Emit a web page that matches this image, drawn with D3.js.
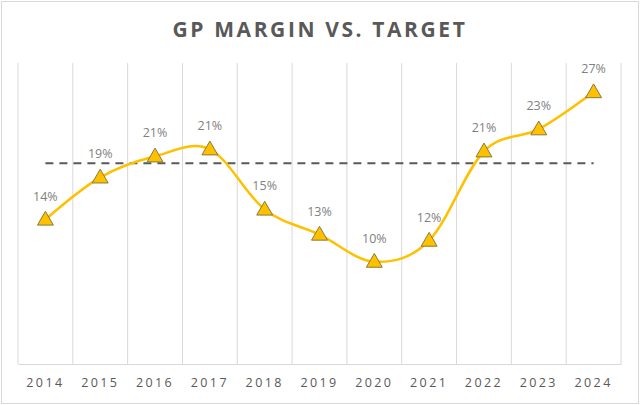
<!DOCTYPE html>
<html>
<head>
<meta charset="utf-8">
<script src="https://cdn.jsdelivr.net/npm/d3@7"></script>
<style>
  body { margin: 0; background: #fff; }
  svg { display: block; }
</style>
</head>
<body>
<script>
// chart data
var years = ['2014', '2015', '2016', '2017', '2018', '2019', '2020', '2021', '2022', '2023', '2024'];
var margin = [0.144, 0.186, 0.207, 0.214, 0.154, 0.129, 0.102, 0.123, 0.212, 0.234, 0.271];
var target = 0.20;
var yDomain = [0, 0.30];

var width = 640, height = 405;
var plot = {left: 18, right: 621, top: 63, bottom: 364};
var gold = '#FFC000';
var textColor = '#595959';

var svg = d3.select('body').append('svg')
    .attr('width', width)
    .attr('height', height);

// outer frame
svg.append('rect')
    .attr('x', 1.5).attr('y', 1.5)
    .attr('width', width - 3).attr('height', height - 3)
    .style('fill', '#fff')
    .style('stroke', '#d9d9d9');

svg.append('text')
    .attr('x', 320).attr('y', 37)
    .attr('text-anchor', 'middle')
    .style('font-family', '"Open Sans", sans-serif')
    .style('font-weight', 'bold')
    .style('font-size', '21px')
    .style('letter-spacing', '2.6px')
    .style('fill', textColor)
    .text('GP MARGIN VS. TARGET');

var x = d3.scaleBand()
    .domain(years)
    .range([plot.left, plot.right]);

var y = d3.scaleLinear()
    .domain(yDomain)
    .range([plot.bottom, plot.top]);

function cx(d) { return x(d) + x.bandwidth() / 2; }

// vertical gridlines between categories
var edges = years.map(function(d) { return x(d); }).concat([plot.right]);
svg.selectAll('.grid')
    .data(edges)
    .enter().append('line')
    .attr('class', 'grid')
    .attr('x1', function(d) { return d; })
    .attr('x2', function(d) { return d; })
    .attr('y1', plot.top)
    .attr('y2', plot.bottom)
    .style('stroke', '#d9d9d9')
    .style('stroke-width', 1);

// category axis
var xAxis = svg.append('g')
    .attr('transform', 'translate(0,' + plot.bottom + ')')
    .call(d3.axisBottom(x).tickSize(0).tickPadding(14));
xAxis.select('.domain').style('stroke', '#d9d9d9');
xAxis.selectAll('text')
    .style('font-family', '"Open Sans", sans-serif')
    .style('font-size', '12.5px')
    .style('letter-spacing', '2.4px')
    .style('fill', textColor);

// target line
svg.append('line')
    .attr('x1', cx(years[0]))
    .attr('x2', cx(years[years.length - 1]))
    .attr('y1', y(target))
    .attr('y2', y(target))
    .style('stroke', '#595959')
    .style('stroke-width', 2)
    .style('stroke-dasharray', '8,6');

var pts = years.map(function(d, i) { return {year: d, v: margin[i]}; });

var line = d3.line()
    .x(function(d) { return cx(d.year); })
    .y(function(d) { return y(d.v); })
    .curve(d3.curveCardinal.tension(0));

svg.append('path')
    .datum(pts)
    .attr('d', line)
    .style('fill', 'none')
    .style('stroke', gold)
    .style('stroke-width', 2.5);

var tri = d3.symbol().type(d3.symbolTriangle).size(110);

svg.selectAll('.marker')
    .data(pts)
    .enter().append('path')
    .attr('class', 'marker')
    .attr('d', tri)
    .attr('transform', function(d) {
        return 'translate(' + cx(d.year) + ',' + (y(d.v) + 1) + ')';
    })
    .style('fill', gold)
    .style('stroke', '#8a7a3a')
    .style('stroke-width', 1);

svg.selectAll('.label')
    .data(pts)
    .enter().append('text')
    .attr('class', 'label')
    .attr('x', function(d) { return cx(d.year); })
    .attr('y', function(d) { return y(d.v) - 19; })
    .attr('text-anchor', 'middle')
    .style('font-family', '"Open Sans", sans-serif')
    .style('font-size', '12.5px')
    .style('fill', '#7f7f7f')
    .text(function(d) { return Math.round(d.v * 100) + '%'; });
</script>
</body>
</html>
